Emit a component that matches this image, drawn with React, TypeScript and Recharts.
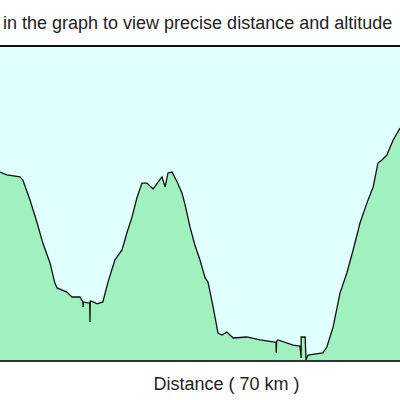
import { ComposedChart, Area, XAxis, YAxis, CartesianGrid, ReferenceLine } from "recharts";

// profile samples (km / m)
const distanceKm = [
  0, 1.2, 3.5, 4.0, 5.25, 6.5, 7.5, 8.75, 9.6, 10.0, 11.7, 12.6, 14.0, 14.5, 14.55, 14.6,
  15.4, 15.7, 15.75, 15.8, 16.3, 17.0, 18.0, 18.9, 20.1, 21.35, 22.2, 23.1, 24.0, 24.85,
  25.7, 26.8, 27.65, 28.35, 28.9, 29.4, 30.1, 31.0, 31.85, 32.4, 33.25, 34.1, 35.0, 35.9,
  36.4, 37.3, 38.15, 38.85, 39.7, 40.8, 43.2, 45.5, 48.1, 48.3, 48.35, 48.4, 48.65, 51.3,
  52.5, 52.7, 52.7, 53.4, 53.55, 53.9, 56.5, 57.2, 58.3, 59.5, 60.7, 61.8, 63.0, 64.2,
  65.3, 66.15, 66.85, 67.7, 68.8, 70.0,
];
const altitudeM = [
  1160, 1145, 1135, 1119, 1018, 901, 799, 698, 596, 571, 550, 525, 525, 500, 474, 500,
  495, 495, 398, 505, 500, 490, 500, 601, 713, 764, 850, 931, 1033, 1104,
  1104, 1074, 1109, 1135, 1084, 1155, 1160, 1109, 1053, 992, 881, 789, 713, 622,
  601, 474, 342, 332, 347, 317, 322, 307, 296, 296, 241, 300, 307, 281,
  276, 215, 322, 322, 205, 230, 241, 271, 373, 545, 647, 764, 901, 1002,
  1084, 1206, 1221, 1246, 1322, 1383,
];

const altDomain = [200, 1800];
const hint = "in the graph to view precise distance and altitude";
const axisTitle = "Distance ( 70 km )";

const profile = distanceKm.map((km, i) => ({ km, alt: altitudeM[i] }));

export default function App() {
  return (
    <div
      style={{
        position: "absolute",
        left: 0,
        top: 0,
        width: 400,
        height: 400,
        background: "#fff",
        fontFamily: "'Liberation Sans', Arial, sans-serif",
        color: "#222",
      }}
    >
      <div style={{ position: "absolute", left: 3, top: 13, fontSize: 18, whiteSpace: "nowrap" }}>
        {hint}
      </div>
      <ComposedChart
        width={400}
        height={400}
        data={profile}
        margin={{ top: 46, right: 0, bottom: 39, left: 0 }}
      >
        <CartesianGrid fill="#E0FFFF" horizontal={false} vertical={false} />
        <XAxis dataKey="km" type="number" domain={[0, 70]} hide />
        <YAxis type="number" domain={altDomain} hide allowDataOverflow />
        <Area
          type="linear"
          dataKey="alt"
          baseValue={altDomain[0]}
          stroke="#111"
          strokeWidth={1.3}
          fill="#A0F0C0"
          fillOpacity={1}
          isAnimationActive={false}
        />
        <ReferenceLine y={altDomain[1]} stroke="#111" strokeWidth={2} />
        <ReferenceLine y={altDomain[0]} stroke="#333" strokeWidth={2} />
      </ComposedChart>
      <div
        style={{
          position: "absolute",
          left: 0,
          width: 453,
          textAlign: "center",
          top: 374,
          fontSize: 18,
        }}
      >
        {axisTitle}
      </div>
    </div>
  );
}
